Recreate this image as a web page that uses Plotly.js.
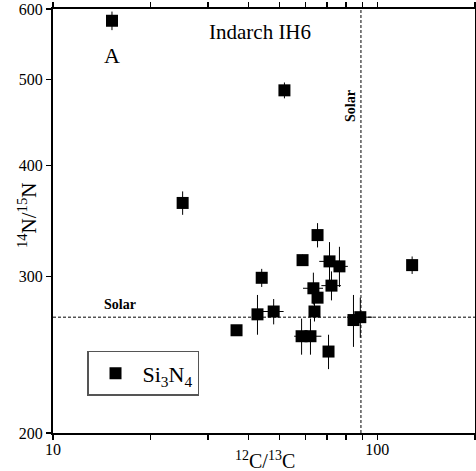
<!DOCTYPE html>
<html><head><meta charset="utf-8">
<script src="https://cdn.plot.ly/plotly-3.0.1.min.js"></script>
<style>html,body{margin:0;padding:0;background:#fff}#chart{width:476px;height:471px}</style>
</head><body><div id="chart"></div>
<script>
// 12C/13C ratios of the Si3N4 grains
const c12c13 = [15.2, 51.7, 25.1, 36.8, 42.7, 44.0, 47.9, 58.8, 65.4, 71.2, 76.4, 63.5, 72.2, 65.4, 64.0, 58.4, 62.2, 70.7, 84.4, 88.6, 128];
// 14N/15N ratios
const n14n15 = [582, 486, 363, 261, 272, 299, 274, 313, 334, 312, 308, 291, 293, 284, 274, 257, 257, 247, 268, 270, 309];
// 1-sigma errors
const c12c13Err = [0, 0, 0, 0, 0, 0, 3.5, 0, 0, 5, 4.7, 4.5, 5, 0, 0, 3, 5, 0, 0, 8, 0];
const n14n15Err = [14, 10, 11, 3, 14, 7, 9, 4.5, 10.5, 16, 16, 12, 11, 0, 7, 12, 12, 11, 18, 14, 7];
// solar reference values
const solarC = 89;
const solarN = 270;
const xRange = [10, 200];
const yRange = [200, 600];
const xMajorTicks = [10, 100];
const xMinorTicks = [20, 30, 40, 50, 60, 70, 80, 90, 200];
const yTicks = [200, 300, 400, 500, 600];

const serif = 'Liberation Serif, Times New Roman, serif';

const traces = [
  {x: xRange, y: [solarN, solarN], mode: 'lines', showlegend: false, hoverinfo: 'skip',
   line: {color: 'black', width: 1, dash: '3px,2px'}},
  {x: [solarC, solarC], y: yRange, mode: 'lines', showlegend: false, hoverinfo: 'skip',
   line: {color: 'black', width: 1, dash: '3px,2px'}},
  {x: c12c13, y: n14n15, mode: 'markers', type: 'scatter', name: 'Si<sub>3</sub>N<sub>4</sub>',
   marker: {symbol: 'square', size: 12, color: 'black'},
   error_x: {type: 'data', array: c12c13Err, color: 'black', thickness: 1, width: 0},
   error_y: {type: 'data', array: n14n15Err, color: 'black', thickness: 1, width: 0}}
];

const layout = {
  width: 476, height: 471,
  margin: {l: 53, r: 1, t: 9, b: 38},
  paper_bgcolor: 'white', plot_bgcolor: 'white',
  font: {family: serif, color: 'black'},
  showlegend: true,
  legend: {x: 0.0806, y: 0.1934, xanchor: 'left', yanchor: 'top', itemwidth: 44,
           bordercolor: '#555', borderwidth: 1.5, bgcolor: 'white',
           font: {family: serif, size: 22, color: 'black'}},
  xaxis: {type: 'log', range: [Math.log10(xRange[0]), Math.log10(xRange[1])],
          tickmode: 'array', tickvals: xMajorTicks, ticktext: xMajorTicks.map(String),
          ticks: 'outside', ticklen: 5, tickwidth: 1.5, tickcolor: 'black', ticklabelstandoff: -4,
          minor: {tickmode: 'array', tickvals: xMinorTicks, ticks: 'outside', ticklen: 5,
                  tickwidth: 1.5, tickcolor: 'black', showgrid: false},
          showline: true, linewidth: 2, linecolor: 'black', mirror: 'ticks',
          showgrid: false, zeroline: false,
          tickfont: {family: serif, size: 16, color: 'black'}},
  yaxis: {type: 'log', range: [Math.log10(yRange[0]), Math.log10(yRange[1])],
          tickmode: 'array', tickvals: yTicks,
          ticks: 'outside', ticklen: 5, tickwidth: 1.5, tickcolor: 'black',
          showline: true, linewidth: 2, linecolor: 'black', mirror: true,
          showgrid: false, zeroline: false,
          tickfont: {family: serif, size: 16, color: 'black'}},
  annotations: [
    {text: 'Indarch IH6', xref: 'paper', yref: 'paper', x: 0.4905, y: 0.9458,
     xanchor: 'center', yanchor: 'middle', showarrow: false, font: {family: serif, size: 21}},
    {text: 'A', xref: 'paper', yref: 'paper', x: 0.1398, y: 0.8892,
     xanchor: 'center', yanchor: 'middle', showarrow: false, font: {family: serif, size: 22}},
    {text: '<b>Solar</b>', xref: 'paper', yref: 'paper', x: 0.1588, y: 0.3019,
     xanchor: 'center', yanchor: 'middle', showarrow: false, font: {family: serif, size: 14}},
    {text: '<b>Solar</b>', xref: 'paper', yref: 'paper', x: 0.7038, y: 0.7712, textangle: -90,
     xanchor: 'center', yanchor: 'middle', showarrow: false, font: {family: serif, size: 14}},
    {text: '<sup>14</sup>N/<sup>15</sup>N', xref: 'paper', yref: 'paper', x: -0.0616, y: 0.514, textangle: -90,
     xanchor: 'center', yanchor: 'middle', showarrow: false, font: {family: serif, size: 21}},
    {text: '<sup>12</sup>C/<sup>13</sup>C', xref: 'paper', yref: 'paper', x: 0.5024, y: -0.0637,
     xanchor: 'center', yanchor: 'middle', showarrow: false, font: {family: serif, size: 20}}
  ]
};

Plotly.newPlot('chart', traces, layout, {displayModeBar: false, staticPlot: true});
</script>
</body></html>
